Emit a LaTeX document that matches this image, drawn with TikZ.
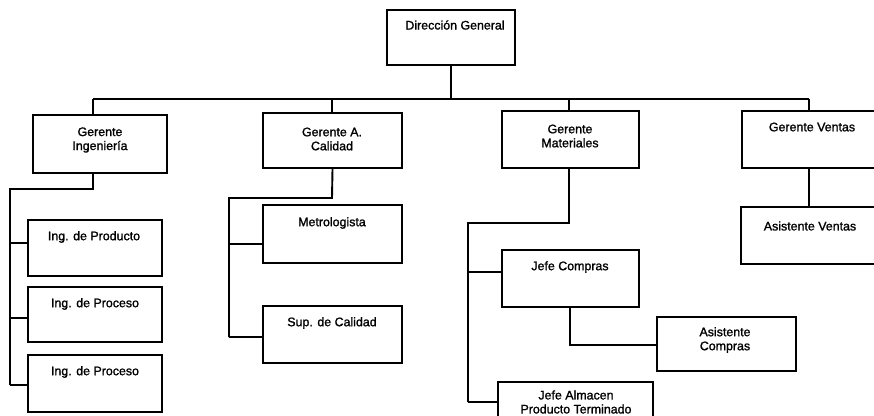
\documentclass[tikz,border=0pt]{standalone}
\usepackage{fontspec}
\newfontfamily\orgfont[FakeBold=1.3]{Liberation Sans}
\begin{document}
\begin{tikzpicture}[x=1pt,y=-1pt,
  box/.style={draw=black,line width=1.9pt,rectangle,inner sep=0pt,fill=white},
  lbl/.style={font=\orgfont\fontsize{12.4}{14}\selectfont,align=center,inner sep=0pt},
  link/.style={draw=black,line width=1.9pt,line join=miter}]
\useasboundingbox (0,0) rectangle (874,415);
\clip (0,0) rectangle (874,415);

% boxes: centre, width, height
\node[box,minimum width=128pt,minimum height=55pt] (dg)   at (451,37.5)  {};
\node[box,minimum width=134pt,minimum height=58pt] (gi)   at (100,144)   {};
\node[box,minimum width=139pt,minimum height=55pt] (gc)   at (332.5,140.5) {};
\node[box,minimum width=137pt,minimum height=57pt] (gm)   at (570.5,139.5) {};
\node[box,minimum width=140pt,minimum height=57pt] (gv)   at (812,139.5) {};
\node[box,minimum width=134pt,minimum height=56pt] (ip)   at (95,248)    {};
\node[box,minimum width=134pt,minimum height=55pt] (ipa)  at (95,314.5)  {};
\node[box,minimum width=134pt,minimum height=57pt] (ipb)  at (95,383.5)  {};
\node[box,minimum width=139pt,minimum height=58pt] (met)  at (332.5,234) {};
\node[box,minimum width=139pt,minimum height=57pt] (sup)  at (332.5,334.5) {};
\node[box,minimum width=137pt,minimum height=57pt] (jc)   at (570.5,278.5) {};
\node[box,minimum width=139pt,minimum height=54pt] (ac)   at (726.5,344)  {};
\node[box,minimum width=155pt,minimum height=58pt] (ja)   at (575.5,411)  {};
\node[box,minimum width=141pt,minimum height=57pt] (av)   at (811.5,235.5) {};

% labels
\node[lbl] (tdg)  at (455,25)  {Dirección General};
\node[lbl] (tgi)  at (100,140) {Gerente\\Ingeniería};
\node[lbl] (tgc)  at (332,139) {Gerente A.\\Calidad};
\node[lbl] (tgm)  at (570,136) {Gerente\\Materiales};
\node[lbl] (tgv)  at (812,127) {Gerente Ventas};
\node[lbl] (tip)  at (94,237)  {Ing. de Producto};
\node[lbl] (tipa) at (95,304)  {Ing. de Proceso};
\node[lbl] (tipb) at (95,372)  {Ing. de Proceso};
\node[lbl] (tmet) at (332,223) {Metrologista};
\node[lbl] (tsup) at (332,323) {Sup. de Calidad};
\node[lbl] (tjc)  at (570,267) {Jefe Compras};
\node[lbl] (tac)  at (725,340) {Asistente\\Compras};
\node[lbl] (tja)  at (576,402) {Jefe Almacen\\Producto Terminado};
\node[lbl] (tav)  at (810,226) {Asistente Ventas};

% main bus
\coordinate (bl) at (93,99);
\coordinate (br) at (809,99);
\coordinate (bc) at (451,99);
\draw[link] (dg.south) -- (bc);
\draw[link] (bl) -- (br);
\draw[link] (bl) -- (bl |- gi.north);
\draw[link] (332,99) -- (332,113) coordinate (gcn);
\draw[link] (569,99) -- (569,111) coordinate (gmn);
\draw[link] (br) -- (br |- gv.north);

% engineering branch
\coordinate (gis) at (93,173);
\coordinate (gik) at (10,189);
\draw[link] (gis) -- (93,189) -- (gik) -- (10,385);
\draw[link] (10,243) -- (10,243 -| ip.west);
\draw[link] (10,318) -- (10,318 -| ipa.west);
\draw[link] (10,385) -- (10,385 -| ipb.west);

% quality branch
\draw[link] (gc.south) -- (332,198) -- (229,198) -- (229,337);
\draw[link] (229,244) -- (229,244 -| met.west);
\draw[link] (229,337) -- (229,337 -| sup.west);

% materials branch
\draw[link] (569,168) -- (569,223) -- (468,223) -- (468,402);
\draw[link] (468,272) -- (468,272 -| jc.west);
\draw[link] (468,402) -- (468,402 -| ja.west);
\draw[link] (570,307) -- (570,345) -- (570,345 -| ac.west);

% sales branch
\draw[link] (809,168) -- (809,207);
\end{tikzpicture}
\end{document}
